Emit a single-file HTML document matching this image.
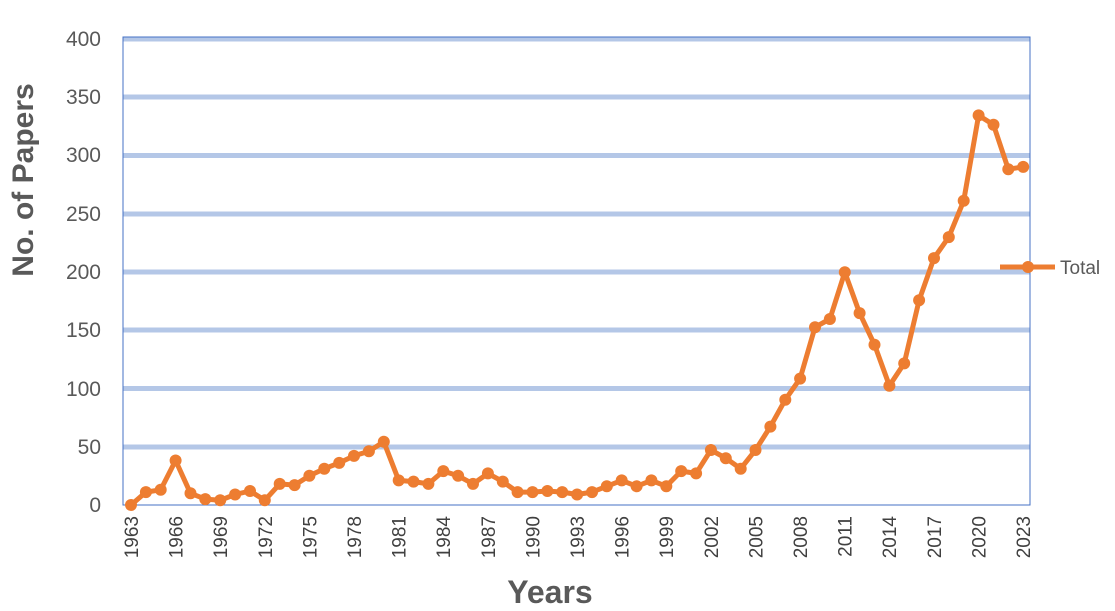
<!DOCTYPE html>
<html><head><meta charset="utf-8"><style>
html,body{margin:0;padding:0;background:#fff;width:1115px;height:611px;overflow:hidden}
svg text{font-family:"Liberation Sans",Arial,sans-serif}
</style></head><body>
<svg id="s" width="1115" height="611" xmlns="http://www.w3.org/2000/svg">
<g stroke="#b4c7e7" stroke-width="5">
<line x1="123" x2="1030" y1="97" y2="97"/><line x1="123" x2="1030" y1="155.5" y2="155.5"/>
<line x1="123" x2="1030" y1="214" y2="214"/><line x1="123" x2="1030" y1="272" y2="272"/>
<line x1="123" x2="1030" y1="330" y2="330"/><line x1="123" x2="1030" y1="388.5" y2="388.5"/>
<line x1="123" x2="1030" y1="447" y2="447"/><line x1="123" x2="1030" y1="39" y2="39"/>
</g>
<rect x="123" y="37" width="907" height="468" fill="none" stroke="#4472c4" stroke-width="1"/>
<g font-size="21" fill="#595959" text-anchor="end">
<text x="101" y="46">400</text><text x="101" y="104">350</text><text x="101" y="162">300</text>
<text x="101" y="221">250</text><text x="101" y="279">200</text><text x="101" y="337">150</text>
<text x="101" y="396">100</text><text x="101" y="454">50</text><text x="101" y="512">0</text>
</g>
<g font-size="19" fill="#404040" text-anchor="end">
<text transform="translate(138,516) rotate(-90)">1963</text>
<text transform="translate(182.6,516) rotate(-90)">1966</text>
<text transform="translate(227.2,516) rotate(-90)">1969</text>
<text transform="translate(271.8,516) rotate(-90)">1972</text>
<text transform="translate(316.4,516) rotate(-90)">1975</text>
<text transform="translate(361,516) rotate(-90)">1978</text>
<text transform="translate(405.6,516) rotate(-90)">1981</text>
<text transform="translate(450.2,516) rotate(-90)">1984</text>
<text transform="translate(494.8,516) rotate(-90)">1987</text>
<text transform="translate(539.4,516) rotate(-90)">1990</text>
<text transform="translate(584,516) rotate(-90)">1993</text>
<text transform="translate(628.6,516) rotate(-90)">1996</text>
<text transform="translate(673.2,516) rotate(-90)">1999</text>
<text transform="translate(717.8,516) rotate(-90)">2002</text>
<text transform="translate(762.4,516) rotate(-90)">2005</text>
<text transform="translate(807,516) rotate(-90)">2008</text>
<text transform="translate(851.6,516) rotate(-90)">2011</text>
<text transform="translate(896.2,516) rotate(-90)">2014</text>
<text transform="translate(940.8,516) rotate(-90)">2017</text>
<text transform="translate(985.4,516) rotate(-90)">2020</text>
<text transform="translate(1030,516) rotate(-90)">2023</text>
</g>
<text x="550" y="603" font-size="32" font-weight="bold" fill="#595959" text-anchor="middle">Years</text>
<text transform="translate(33,180) rotate(-90)" font-size="30" font-weight="bold" fill="#595959" text-anchor="middle">No. of Papers</text>
<polyline id="ln" fill="none" stroke="#ed7d31" stroke-width="5" stroke-linejoin="round"/>
<g id="pts" fill="#ed7d31"></g>
<line x1="1000" x2="1055" y1="267" y2="267" stroke="#ed7d31" stroke-width="5"/>
<circle cx="1028" cy="267" r="6" fill="#ed7d31"/>
<text x="1060" y="274" font-size="19" fill="#595959">Total</text>
</svg>
<script>
var d=[0,11,13,38,10,5,4,9,12,4,18,17,25,31,36,42,46,54,21,20,18,29,25,18,27,20,11,11,12,11,9,11,16,21,16,21,16,29,27,47,40,31,47,67,90,108,152,159,199,164,137,102,121,175,211,229,260,333,325,287,289];
var p=[],g=document.getElementById('pts'),h='';
d.forEach(function(v,i){var x=131+i*14.87,y=505-v*1.17;p.push(x.toFixed(1)+','+y.toFixed(1));h+='<circle cx="'+x.toFixed(1)+'" cy="'+y.toFixed(1)+'" r="6"/>';});
document.getElementById('ln').setAttribute('points',p.join(' '));
g.innerHTML=h;
</script>
</body></html>
